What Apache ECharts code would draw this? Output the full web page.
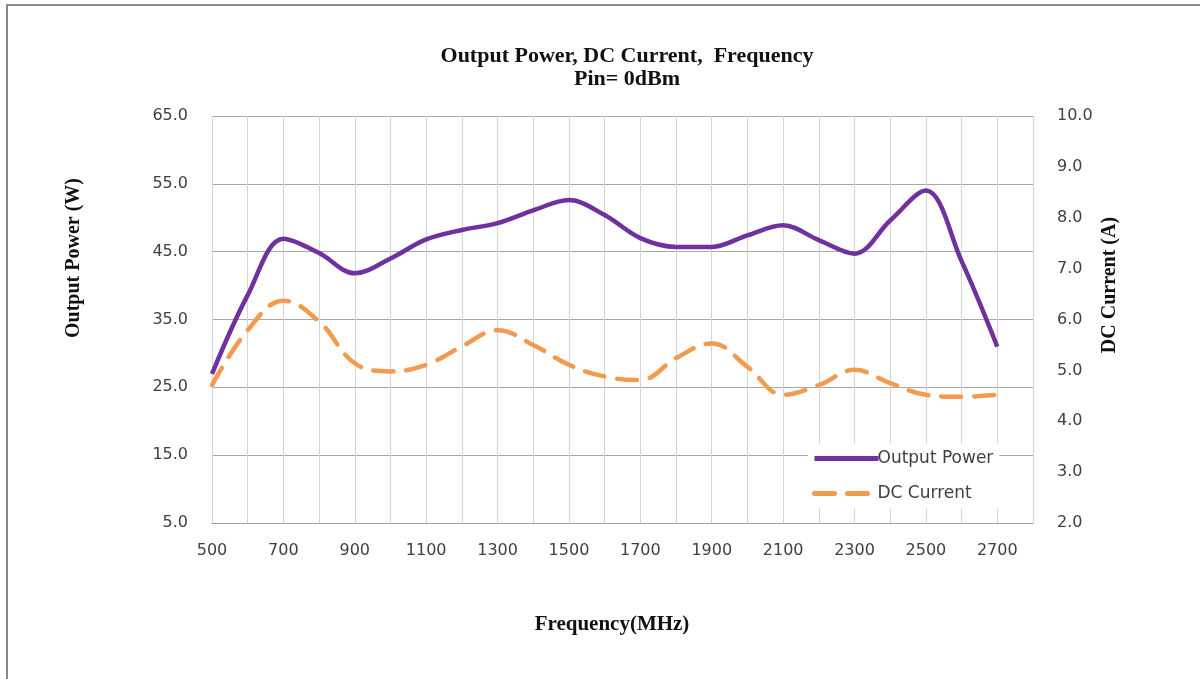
<!DOCTYPE html>
<html>
<head>
<meta charset="utf-8">
<script src="https://cdn.jsdelivr.net/npm/echarts@6/dist/echarts.min.js"></script>
<style>
html,body{margin:0;padding:0;background:#fff;}
#chart{width:1200px;height:679px;}
</style>
</head>
<body>
<div id="chart"></div>
<script>
const frequencies = [500,600,700,800,900,1000,1100,1200,1300,1400,1500,1600,1700,1800,1900,2000,2100,2200,2300,2400,2500,2600,2700];
const outputPower = [27.0,38.6,46.9,44.8,41.8,44.0,46.8,48.2,49.2,51.1,52.6,50.4,47.0,45.7,45.7,47.4,48.9,46.7,44.7,49.6,54.0,43.6,31.0];
const dcCurrent = [4.71,5.79,6.37,5.96,5.14,4.98,5.11,5.47,5.79,5.50,5.11,4.88,4.81,5.24,5.53,5.07,4.52,4.71,5.01,4.75,4.52,4.48,4.52];
const xLabelValues = [500,700,900,1100,1300,1500,1700,1900,2100,2300,2500,2700];
const titleLines = ['Output Power, DC Current,  Frequency', 'Pin= 0dBm'];
const seriesNames = ['Output Power', 'DC Current'];

const chart = echarts.init(document.getElementById('chart'), null, {renderer: 'canvas'});
const serif = '"Liberation Serif", "DejaVu Serif", serif';
const sans = '"DejaVu Sans", "Liberation Sans", sans-serif';

const option = {
  animation: false,
  backgroundColor: '#fff',
  title: {
    text: titleLines.join('\n'),
    left: 622, textAlign: 'center', top: 40,
    textStyle: {fontFamily: serif, fontWeight: 'bold', fontSize: 22, lineHeight: 23, color: '#111'}
  },
  graphic: [
    {type: 'polyline', shape: {points: [[7,679],[7,5],[1200,5]]}, style: {stroke: '#8a8a8a', lineWidth: 2, fill: null}},
    {type: 'text', x: 74, y: 258, rotation: Math.PI/2, style: {text: 'Output Power (W)', font: 'bold 20px ' + serif, fill: '#111', textAlign: 'center', textVerticalAlign: 'middle'}},
    {type: 'text', x: 1110, y: 285, rotation: Math.PI/2, style: {text: 'DC Current (A)', font: 'bold 20px ' + serif, fill: '#111', textAlign: 'center', textVerticalAlign: 'middle'}},
    {type: 'text', x: 612, y: 625, style: {text: 'Frequency(MHz)', font: 'bold 21px ' + serif, fill: '#111', textAlign: 'center', textVerticalAlign: 'middle'}}
  ],
  grid: {left: 212, right: 167, top: 116, bottom: 156, containLabel: false},
  legend: {
    orient: 'vertical', left: 808, top: 444,
    itemWidth: 64, itemHeight: 14, itemGap: 18,
    backgroundColor: '#fff', padding: [6, 6, 6, 4],
    itemStyle: {opacity: 0},
    textStyle: {fontFamily: sans, fontSize: 17, color: '#404040', padding: [0,0,0,-6]},
    data: [
      {name: seriesNames[0], lineStyle: {width: 5}},
      {name: seriesNames[1], lineStyle: {width: 5}}
    ]
  },
  xAxis: {
    type: 'value', min: 500, max: 2800, interval: 100,
    axisLine: {show: true, lineStyle: {color: '#A0A0A0', width: 1}},
    axisTick: {show: false},
    splitLine: {show: true, lineStyle: {color: '#D4D4D4', width: 1}},
    axisLabel: {
      margin: 20, fontFamily: sans, fontSize: 16, color: '#404040',
      formatter: v => xLabelValues.indexOf(v) >= 0 ? String(v) : ''
    }
  },
  yAxis: [
    {
      type: 'value', min: 5, max: 65, interval: 10,
      axisLine: {show: false}, axisTick: {show: false},
      splitLine: {show: true, lineStyle: {color: '#A8A8A8', width: 1}},
      axisLabel: {margin: 24, fontFamily: sans, fontSize: 16, color: '#404040', formatter: v => v.toFixed(1)}
    },
    {
      type: 'value', min: 2, max: 10, interval: 1,
      axisLine: {show: false}, axisTick: {show: false},
      splitLine: {show: false},
      axisLabel: {margin: 24, fontFamily: sans, fontSize: 16, color: '#404040', formatter: v => v.toFixed(1)}
    }
  ],
  series: [
    {
      name: seriesNames[0], type: 'line', yAxisIndex: 0, smooth: 0.35, symbol: 'none',
      data: frequencies.map((f, i) => [f, outputPower[i]]),
      lineStyle: {color: '#7030A0', width: 4.5},
      itemStyle: {color: '#7030A0'}
    },
    {
      name: seriesNames[1], type: 'line', yAxisIndex: 1, smooth: 0.4, symbol: 'none',
      data: frequencies.map((f, i) => [f, dcCurrent[i]]),
      lineStyle: {color: '#F29A4E', width: 4.5, type: [20, 13], cap: 'round'},
      itemStyle: {color: '#F29A4E'}
    }
  ]
};
chart.setOption(option);
</script>
</body>
</html>
